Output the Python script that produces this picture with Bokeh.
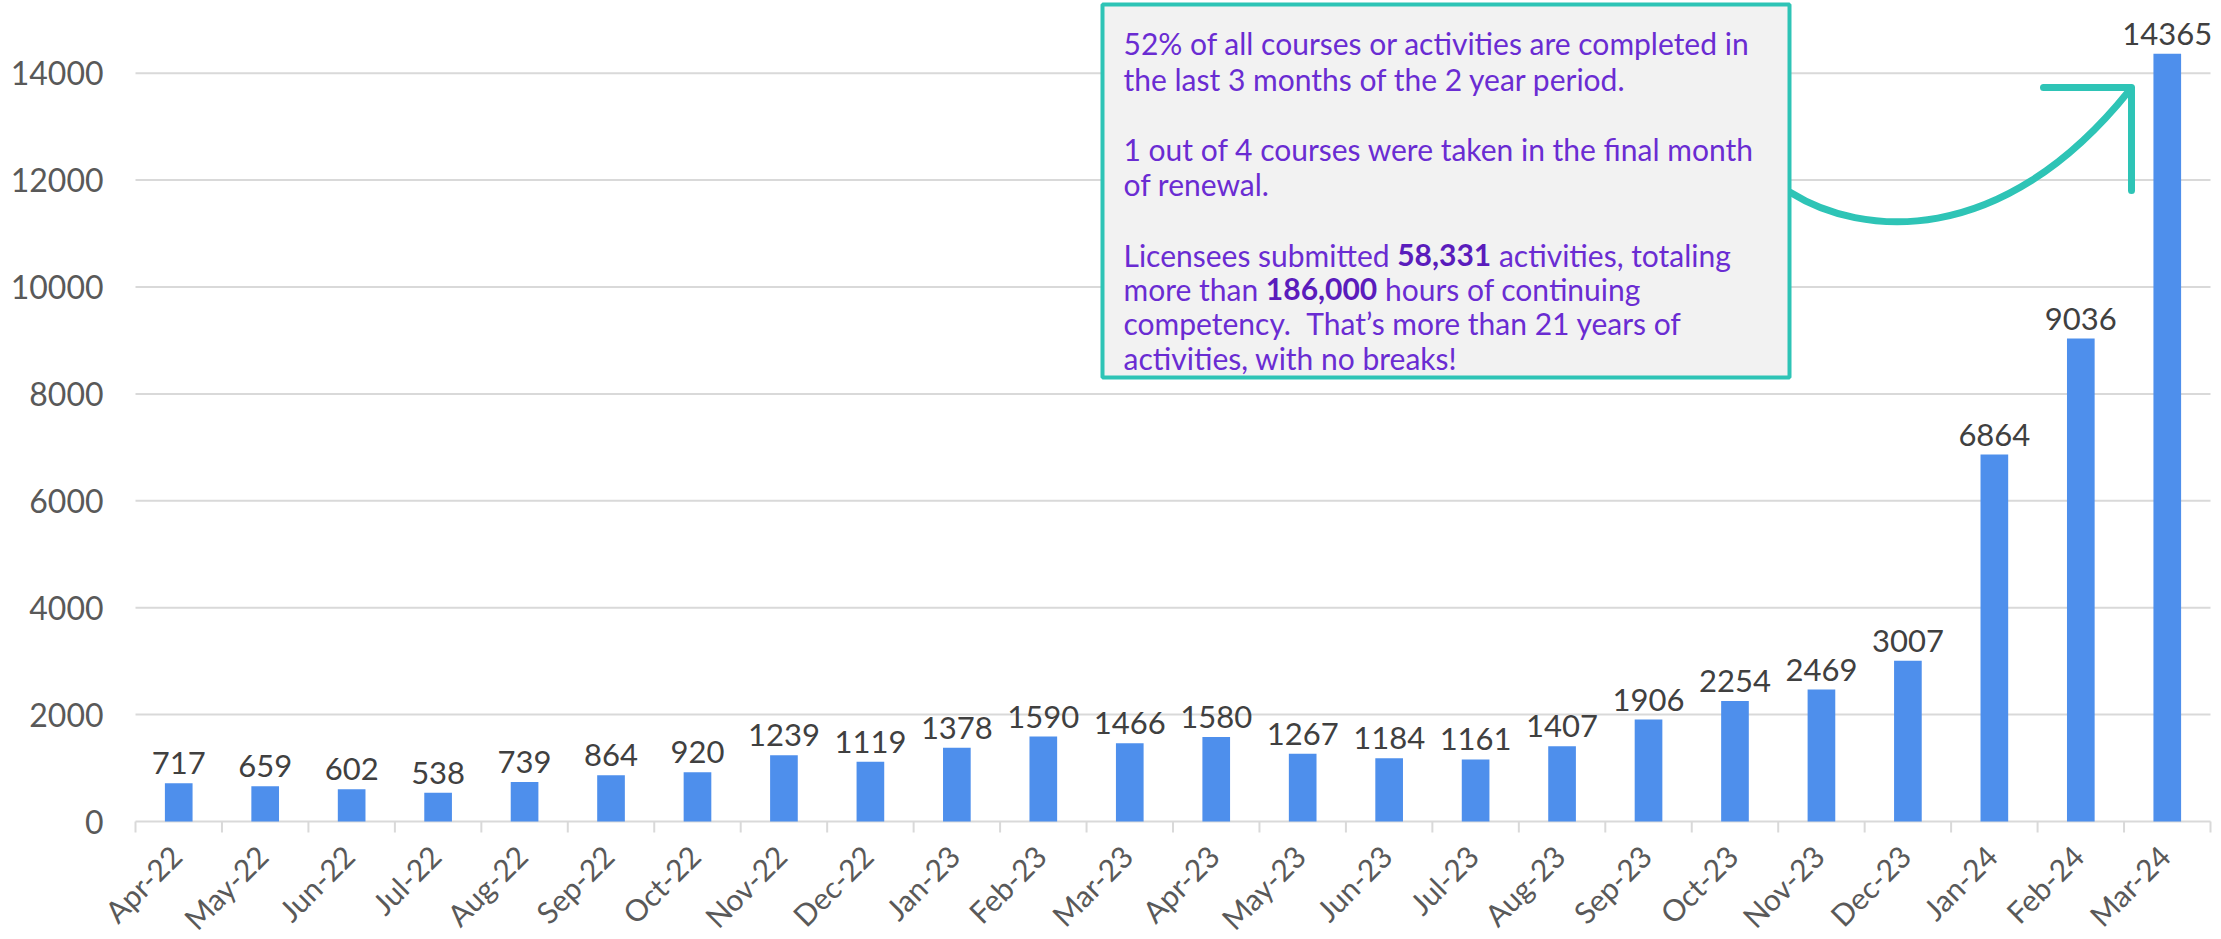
import os, math, subprocess
from bokeh.plotting import figure
from bokeh.models import Range1d, BoxAnnotation, Label, LabelSet, ColumnDataSource
from bokeh.core.properties import value
from bokeh.embed import file_html
from bokeh.resources import INLINE

# ---------------- data ----------------
months = ["Apr-22", "May-22", "Jun-22", "Jul-22", "Aug-22", "Sep-22", "Oct-22", "Nov-22",
          "Dec-22", "Jan-23", "Feb-23", "Mar-23", "Apr-23", "May-23", "Jun-23", "Jul-23",
          "Aug-23", "Sep-23", "Oct-23", "Nov-23", "Dec-23", "Jan-24", "Feb-24", "Mar-24"]
counts = [717, 659, 602, 538, 739, 864, 920, 1239, 1119, 1378, 1590, 1466,
          1580, 1267, 1184, 1161, 1407, 1906, 2254, 2469, 3007, 6864, 9036, 14365]
y_ticks = [0, 2000, 4000, 6000, 8000, 10000, 12000, 14000]

note_lines = [
    [("52% of all courses or activities are completed in", False)],
    [("the last 3 months of the 2 year period.", False)],
    [("1 out of 4 courses were taken in the final month", False)],
    [("of renewal.", False)],
    [("Licensees submitted ", False), ("58,331", True), (" activities, totaling", False)],
    [("more than ", False), ("186,000", True), (" hours of continuing", False)],
    [("competency.", False), ("  That\u2019s more than 21 years of", False)],
    [("activities, with no breaks!", False)],
]

# ---------------- style / layout ----------------
FONT = "Lato"
BAR = "#4e8fec"
GRID = "#d9d9d9"
AXIS_TXT = "#595959"
DATA_TXT = "#404040"
TEAL = "#2ec4b6"
PURPLE = "#6a2cd2"
PURPLE_B = "#5a1cbc"
NOTE_SIZE = 30

W, H = 2220, 939
CAT_L, CAT_R = 135, 2210        # page x of the category band (plot area)
ZERO_Y = 821                    # page y of the value 0
PX_PER_UNIT = 748.3 / 14000.0
N = len(months)


def dx(px):
    return -0.5 + (px - CAT_L) * N / (CAT_R - CAT_L)


def dy(py):
    return (ZERO_Y - py) / PX_PER_UNIT


def font_path(pattern):
    try:
        out = subprocess.run(["fc-match", "-f", "%{file}", pattern],
                             capture_output=True, text=True).stdout.strip()
        if out and os.path.exists(out):
            return out
    except Exception:
        pass
    return None


_fonts = {}


def text_width(txt, bold, size):
    try:
        from PIL import ImageFont
        key = (bold, size)
        if key not in _fonts:
            _fonts[key] = ImageFont.truetype(font_path(FONT + (":bold" if bold else ":regular")), size)
        return _fonts[key].getlength(txt)
    except Exception:
        return len(txt) * size * (0.52 if bold else 0.46)


# the frame covers the whole canvas; axes are drawn by hand so nothing is clipped
p = figure(width=W, height=H, output_backend="svg", toolbar_location=None,
           x_range=Range1d(dx(0), dx(W)), y_range=Range1d(dy(H), dy(0)),
           x_axis_location=None, y_axis_location=None,
           min_border_left=0, min_border_right=0, min_border_top=0, min_border_bottom=0,
           background_fill_color="white", border_fill_color="white")
p.outline_line_color = None
for g in p.grid:
    g.visible = False

idx = list(range(N))
left_edge, right_edge = -0.5, N - 0.5

# horizontal gridlines (the one at 0 is the category axis line)
grid_src = ColumnDataSource(dict(y=y_ticks, x0=[left_edge] * len(y_ticks),
                                 x1=[right_edge] * len(y_ticks),
                                 label=[str(t) for t in y_ticks]))
p.segment(x0="x0", y0="y", x1="x1", y1="y", source=grid_src, line_color=GRID, line_width=2)
p.text(x="x0", y="y", text="label", source=grid_src, x_offset=-32, text_align="right",
       text_baseline="middle", text_font=value(FONT), text_font_size="32px",
       text_color=AXIS_TXT)

# category separator ticks below the zero line
sep = ColumnDataSource(dict(x=[i - 0.5 for i in range(N + 1)], zero=[0] * (N + 1)))
p.ray(x="x", y="zero", source=sep, length=11, length_units="screen", angle=-math.pi / 2,
      line_color=GRID, line_width=2)

src = ColumnDataSource(dict(x=idx, count=counts, label=[str(c) for c in counts],
                            month=months, zero=[0] * N))
p.vbar(x="x", top="count", width=0.32, source=src, fill_color=BAR, line_color=None)
p.text(x="x", y="count", text="label", source=src, text_align="center",
       text_baseline="alphabetic", y_offset=-20, text_font=value(FONT),
       text_font_size="31px", text_color=DATA_TXT)

# rotated category labels
p.add_layout(LabelSet(x="x", y="zero", text="month", source=src, angle=math.pi / 4,
                      text_align="right", text_baseline="middle", x_offset=-3, y_offset=-29,
                      text_font=value(FONT), text_font_size="30px", text_color=AXIS_TXT))

# arrow
p.bezier(x0=dx(1790), y0=dy(192), x1=dx(2128), y1=dy(91),
         cx0=dx(1860), cy0=dy(236), cx1=dx(2000), cy1=dy(250),
         line_color=TEAL, line_width=7, line_cap="round")
p.multi_line(xs=[[dx(2043), dx(2131), dx(2131)]], ys=[[dy(87), dy(87), dy(190)]],
             line_color=TEAL, line_width=7, line_cap="round", line_join="round")

# note box
box = BoxAnnotation(left=dx(1102), right=dx(1789), top=dy(4), bottom=dy(377),
                    fill_color="#f2f2f2", fill_alpha=1, line_color=TEAL, line_width=4,
                    line_alpha=1)
p.add_layout(box)

TEXT_LEFT = 1123
baselines = [42, 78, 148, 183, 254, 288, 322, 357]
for segs, base in zip(note_lines, baselines):
    off = 0.0
    for txt, bold in segs:
        lead = txt[:len(txt) - len(txt.lstrip())]
        shown = txt.strip()
        p.add_layout(Label(x=dx(TEXT_LEFT), y=dy(base),
                           x_offset=off + text_width(lead, bold, NOTE_SIZE), text=shown,
                           text_font=FONT, text_font_size=f"{NOTE_SIZE}px",
                           text_font_style="bold" if bold else "normal",
                           text_color=PURPLE_B if bold else PURPLE,
                           text_baseline="alphabetic", text_align="left"))
        off += text_width(txt, bold, NOTE_SIZE)

open("out.html", "w").write(file_html(p, INLINE))
